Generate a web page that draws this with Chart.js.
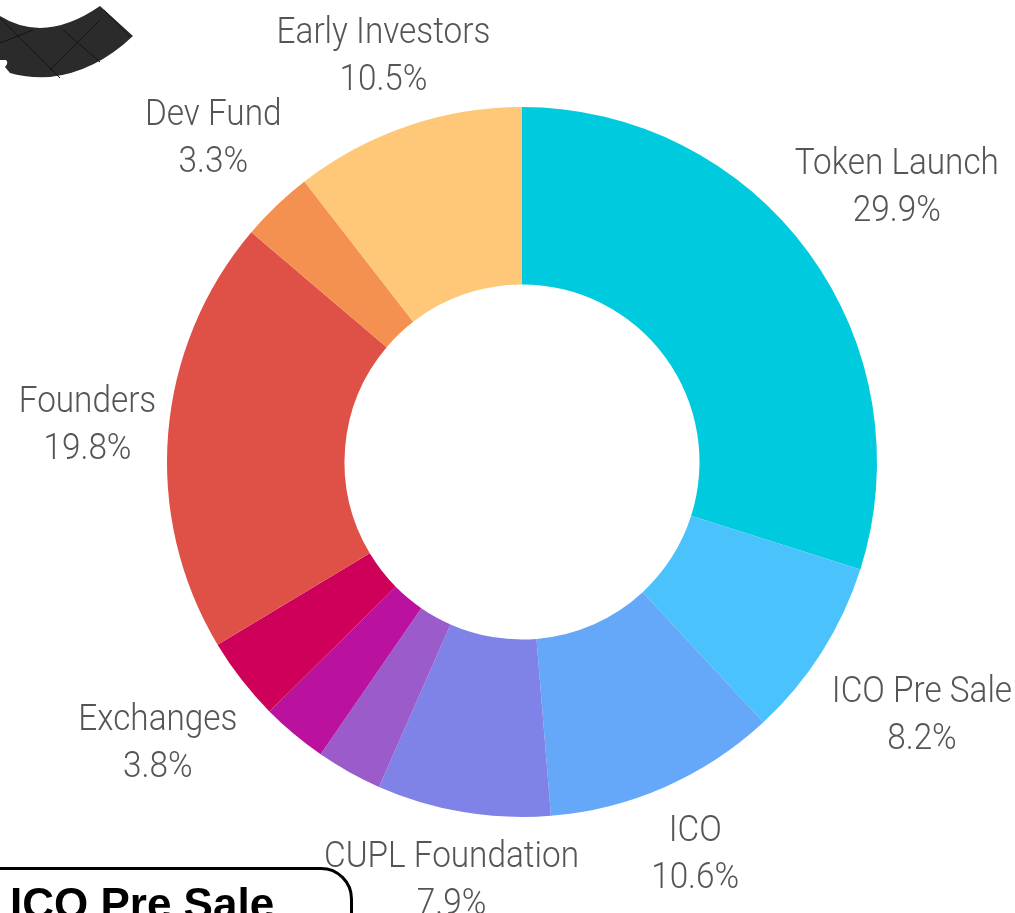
<!DOCTYPE html>
<html>
<head>
<meta charset="utf-8">
<script src="https://cdn.jsdelivr.net/npm/chart.js@4.4.1/dist/chart.umd.min.js"></script>
<style>
  body { margin: 0; background: #fff; overflow: hidden; }
  #wrap { position: relative; width: 1015px; height: 913px; }
  #deco { position: absolute; left: 0; top: 0; }
  #tag {
    position: absolute; left: -40px; top: 867px; width: 393px; height: 80px;
    border: 3px solid #000; border-radius: 0 32px 0 0; box-sizing: border-box;
  }
  #tag span {
    position: absolute; left: 47px; top: 9px;
    font: bold 44px "Liberation Sans", Arial, sans-serif; color: #000; white-space: nowrap;
  }
</style>
</head>
<body>
<div id="wrap">
  <canvas id="myChart" width="1015" height="913"></canvas>
  <svg id="deco" width="140" height="90">
    <path d="M0,16 Q45,44 100,6 L133,36 Q95,72 50,77 Q25,78 10,73 L5,67 Q9,63 6,60 L0,60 Z" fill="#2b2b2b"/>
    <path d="M0,18 L60,78 M0,43 L33,30 M50,70 L78,42 L100,20 M63,30 L100,62 M104,10 L130,37" stroke="#141414" stroke-width="1" fill="none"/>
  </svg>
  <div id="tag"><span>ICO Pre Sale</span></div>
</div>
<script>
// token allocation, clockwise from the top
const categories = ['Token Launch', 'ICO Pre Sale', 'ICO', 'CUPL Foundation', '', '', 'Exchanges', 'Founders', 'Dev Fund', 'Early Investors'];
const shares = [29.9, 8.2, 10.6, 7.9, 3.0, 3.0, 3.8, 19.8, 3.3, 10.5];
const colors = ['#00cadd', '#4ac3fd', '#65a7f8', '#7f82e6', '#9b5bcb', '#ba119e', '#cf005a', '#df5146', '#f59150', '#fec878'];

// draws "name / value%" outside each slice, the text box pushed out along the slice's middle ray
const outsideLabels = {
  id: 'outsideLabels',
  afterDatasetsDraw(chart) {
    const ctx = chart.ctx;
    const meta = chart.getDatasetMeta(0);
    const squeeze = 0.9;
    const lineGap = 47;
    ctx.save();
    ctx.font = '300 37px Roboto';
    ctx.fillStyle = '#555';
    ctx.textAlign = 'center';
    ctx.textBaseline = 'middle';
    meta.data.forEach((arc, i) => {
      const name = categories[i];
      if (!name) return;
      const p = arc.getProps(['x', 'y', 'startAngle', 'endAngle', 'outerRadius'], true);
      const mid = (p.startAngle + p.endAngle) / 2;
      const cx = Math.cos(mid), cy = Math.sin(mid);
      const pct = shares[i].toFixed(1) + '%';
      const w = Math.max(ctx.measureText(name).width, ctx.measureText(pct).width) * squeeze;
      const h = 115;
      // distance from box centre to its edge along the ray
      const half = Math.min(
        Math.abs(cx) > 1e-6 ? (w / 2) / Math.abs(cx) : Infinity,
        Math.abs(cy) > 1e-6 ? (h / 2) / Math.abs(cy) : Infinity
      );
      const r = p.outerRadius + 12 + half;
      const x = p.x + cx * r;
      const y = p.y + cy * r;
      [name, pct].forEach((t, k) => {
        ctx.save();
        ctx.translate(x, y + (k - 0.5) * lineGap);
        ctx.scale(squeeze, 1);
        ctx.fillText(t, 0, 0);
        ctx.restore();
      });
    });
    ctx.restore();
  }
};

const ctx = document.getElementById('myChart').getContext('2d');
const myChart = new Chart(ctx, {
  type: 'doughnut',
  data: {
    labels: categories,
    datasets: [{
      data: shares,
      backgroundColor: colors,
      borderWidth: 0
    }]
  },
  options: {
    responsive: false,
    animation: false,
    cutout: '50%',
    layout: { padding: { top: 107, bottom: 96, left: 29, right: 0 } },
    plugins: {
      legend: { display: false },
      tooltip: { enabled: false }
    }
  },
  plugins: [outsideLabels]
});
</script>
</body>
</html>
